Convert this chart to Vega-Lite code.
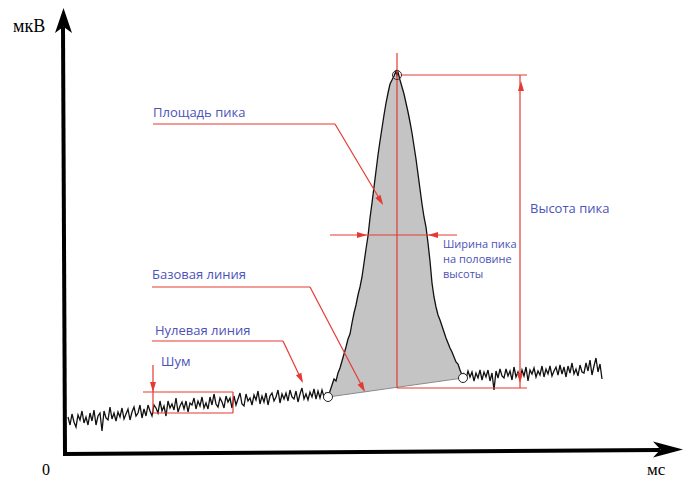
{
  "$schema": "https://vega.github.io/schema/vega-lite/v6.json",
  "width": 687,
  "height": 479,
  "autosize": {"type": "fit", "contains": "padding"},
  "padding": 0,
  "background": "white",
  "config": {"view": {"stroke": null}},
  "datasets": {
    "sig": [
      {"t":68,"v":38},{"t":70,"v":30},{"t":72,"v":41},{"t":74,"v":33},{"t":76,"v":28},{"t":78,"v":40},{"t":80,"v":35},{"t":82,"v":44},{"t":84,"v":32},{"t":86,"v":38},
      {"t":88,"v":30},{"t":90,"v":42},{"t":92,"v":34},{"t":94,"v":45},{"t":96,"v":30},{"t":98,"v":39},{"t":100,"v":42},{"t":102,"v":24},{"t":104,"v":44},{"t":106,"v":37},
      {"t":108,"v":35},{"t":110,"v":48},{"t":112,"v":36},{"t":114,"v":42},{"t":116,"v":34},{"t":118,"v":43},{"t":120,"v":38},{"t":122,"v":47},{"t":124,"v":36},{"t":126,"v":41},
      {"t":128,"v":46},{"t":130,"v":35},{"t":132,"v":43},{"t":134,"v":48},{"t":136,"v":39},{"t":138,"v":42},{"t":140,"v":50},{"t":142,"v":37},{"t":144,"v":46},{"t":146,"v":39},
      {"t":148,"v":50},{"t":150,"v":44},{"t":152,"v":39},{"t":154,"v":50},{"t":156,"v":47},{"t":158,"v":42},{"t":160,"v":54},{"t":162,"v":44},{"t":164,"v":49},{"t":166,"v":39},
      {"t":168,"v":54},{"t":170,"v":47},{"t":172,"v":51},{"t":174,"v":45},{"t":176,"v":57},{"t":178,"v":43},{"t":180,"v":49},{"t":182,"v":53},{"t":184,"v":46},{"t":186,"v":54},
      {"t":188,"v":43},{"t":190,"v":52},{"t":192,"v":50},{"t":194,"v":57},{"t":196,"v":46},{"t":198,"v":54},{"t":200,"v":49},{"t":202,"v":58},{"t":204,"v":47},{"t":206,"v":52},
      {"t":208,"v":46},{"t":210,"v":58},{"t":212,"v":50},{"t":214,"v":61},{"t":216,"v":51},{"t":218,"v":48},{"t":220,"v":57},{"t":222,"v":53},{"t":224,"v":47},{"t":226,"v":59},
      {"t":228,"v":53},{"t":230,"v":57},{"t":232,"v":47},{"t":234,"v":59},{"t":236,"v":50},{"t":238,"v":56},{"t":240,"v":62},{"t":242,"v":51},{"t":244,"v":49},{"t":246,"v":61},
      {"t":248,"v":54},{"t":250,"v":57},{"t":252,"v":50},{"t":254,"v":60},{"t":256,"v":55},{"t":258,"v":64},{"t":260,"v":51},{"t":262,"v":59},{"t":264,"v":53},{"t":266,"v":62},
      {"t":268,"v":50},{"t":270,"v":59},{"t":272,"v":62},{"t":274,"v":54},{"t":276,"v":58},{"t":278,"v":65},{"t":280,"v":52},{"t":282,"v":61},{"t":284,"v":56},{"t":286,"v":62},
      {"t":288,"v":54},{"t":290,"v":65},{"t":292,"v":58},{"t":294,"v":56},{"t":296,"v":64},{"t":298,"v":53},{"t":300,"v":61},{"t":302,"v":67},{"t":304,"v":56},{"t":306,"v":61},
      {"t":308,"v":55},{"t":310,"v":63},{"t":312,"v":58},{"t":314,"v":66},{"t":316,"v":56},{"t":318,"v":64},{"t":320,"v":57},{"t":322,"v":65},{"t":324,"v":58},{"t":326,"v":62},
      {"t":328,"v":58,"b":58},{"t":330,"v":64,"b":58.3},{"t":332,"v":70,"b":58.6},{"t":334,"v":76,"b":58.8},{"t":336,"v":74,"b":59.1},{"t":338,"v":82,"b":59.4},{"t":340,"v":87,"b":59.7},
      {"t":342,"v":94,"b":60},{"t":344,"v":101,"b":60.3},{"t":346,"v":108,"b":60.5},{"t":348,"v":116,"b":60.8},{"t":350,"v":121,"b":61.1},{"t":352,"v":132,"b":61.4},{"t":354,"v":142,"b":61.7},
      {"t":356,"v":150,"b":61.9},{"t":358,"v":160,"b":62.2},{"t":360,"v":168,"b":62.5},{"t":362,"v":178,"b":62.8},{"t":364,"v":192,"b":63.1},{"t":366,"v":206,"b":63.3},{"t":368,"v":219,"b":63.6},
      {"t":370,"v":237,"b":63.9},{"t":372,"v":252,"b":64.2},{"t":374,"v":268,"b":64.5},{"t":376,"v":284,"b":64.8},{"t":378,"v":300,"b":65},{"t":380,"v":314,"b":65.3},{"t":382,"v":327,"b":65.6},
      {"t":384,"v":340,"b":65.9},{"t":386,"v":352,"b":66.2},{"t":388,"v":362,"b":66.4},{"t":390,"v":371,"b":66.7},{"t":392,"v":375,"b":67},{"t":394,"v":379,"b":67.3},{"t":396,"v":384,"b":67.6},
      {"t":397,"v":380,"b":67.7},{"t":398,"v":383,"b":67.8},{"t":400,"v":375,"b":68.1},{"t":402,"v":368,"b":68.4},{"t":404,"v":361,"b":68.7},{"t":406,"v":352,"b":69},{"t":408,"v":343,"b":69.3},
      {"t":410,"v":333,"b":69.5},{"t":412,"v":322,"b":69.8},{"t":414,"v":309,"b":70.1},{"t":416,"v":296,"b":70.4},{"t":418,"v":281,"b":70.7},{"t":420,"v":266,"b":70.9},{"t":422,"v":251,"b":71.2},
      {"t":424,"v":238,"b":71.5},{"t":426,"v":228,"b":71.8},{"t":428,"v":212,"b":72.1},{"t":430,"v":194,"b":72.4},{"t":432,"v":172,"b":72.6},{"t":434,"v":158,"b":72.9},{"t":436,"v":148,"b":73.2},
      {"t":438,"v":140,"b":73.5},{"t":440,"v":135,"b":73.8},{"t":442,"v":129,"b":74},{"t":444,"v":123,"b":74.3},{"t":446,"v":117,"b":74.6},{"t":448,"v":112,"b":74.9},{"t":450,"v":107,"b":75.2},
      {"t":452,"v":103,"b":75.4},{"t":454,"v":98,"b":75.7},{"t":456,"v":93,"b":76},{"t":458,"v":91,"b":76.3},{"t":460,"v":85,"b":76.6},{"t":462,"v":80,"b":76.8},{"t":463,"v":77,"b":77},
      {"t":464,"v":81},{"t":466,"v":76},{"t":468,"v":84},{"t":470,"v":78},{"t":472,"v":83},{"t":474,"v":74},{"t":476,"v":82},{"t":478,"v":77},{"t":480,"v":85},{"t":482,"v":75},
      {"t":484,"v":83},{"t":486,"v":78},{"t":488,"v":85},{"t":490,"v":74},{"t":492,"v":82},{"t":494,"v":65},{"t":496,"v":84},{"t":498,"v":77},{"t":500,"v":86},{"t":502,"v":79},
      {"t":504,"v":77},{"t":506,"v":86},{"t":508,"v":79},{"t":510,"v":84},{"t":512,"v":75},{"t":514,"v":88},{"t":516,"v":78},{"t":518,"v":83},{"t":520,"v":76},{"t":522,"v":85},
      {"t":524,"v":79},{"t":526,"v":88},{"t":528,"v":74},{"t":530,"v":85},{"t":532,"v":81},{"t":534,"v":87},{"t":536,"v":78},{"t":538,"v":84},{"t":540,"v":80},{"t":542,"v":89},
      {"t":544,"v":78},{"t":546,"v":86},{"t":548,"v":81},{"t":550,"v":89},{"t":552,"v":79},{"t":554,"v":84},{"t":556,"v":88},{"t":558,"v":80},{"t":560,"v":90},{"t":562,"v":81},
      {"t":564,"v":88},{"t":566,"v":78},{"t":568,"v":89},{"t":570,"v":82},{"t":572,"v":92},{"t":574,"v":81},{"t":576,"v":86},{"t":578,"v":79},{"t":580,"v":90},{"t":582,"v":83},
      {"t":584,"v":82},{"t":586,"v":92},{"t":588,"v":84},{"t":590,"v":95},{"t":592,"v":80},{"t":594,"v":89},{"t":596,"v":97},{"t":598,"v":83},{"t":600,"v":91},{"t":602,"v":76}
    ],
    "segs": [
      {"x":65,"v":0,"x2":63,"v2":428,"c":"#000000","w":4},
      {"x":63,"v":1,"x2":660,"v2":5,"c":"#000000","w":4},
      {"x":328,"v":58,"x2":463,"v2":77,"c":"#8a8a8a","w":1},
      {"x":153,"v":331,"x2":335,"v2":331,"c":"#e53a33","w":1.2},
      {"x":335,"v":331,"x2":382,"v2":252,"c":"#e53a33","w":1.2},
      {"x":152,"v":168,"x2":310,"v2":168,"c":"#e53a33","w":1.2},
      {"x":310,"v":168,"x2":364,"v2":65,"c":"#e53a33","w":1.2},
      {"x":152,"v":114,"x2":283,"v2":114,"c":"#e53a33","w":1.2},
      {"x":283,"v":114,"x2":302,"v2":74,"c":"#e53a33","w":1.2},
      {"x":153,"v":90,"x2":153,"v2":42,"c":"#e53a33","w":1.2},
      {"x":143,"v":63,"x2":233,"v2":63,"c":"#e53a33","w":1.2},
      {"x":153,"v":42,"x2":233,"v2":42,"c":"#e53a33","w":1.2},
      {"x":233,"v":63,"x2":233,"v2":42,"c":"#e53a33","w":1.2},
      {"x":330,"v":220,"x2":457,"v2":220,"c":"#e53a33","w":1.2},
      {"x":397,"v":402,"x2":397,"v2":67,"c":"#e53a33","w":1.2},
      {"x":397,"v":67,"x2":527,"v2":67,"c":"#e53a33","w":1.2},
      {"x":401,"v":380,"x2":527,"v2":380,"c":"#e53a33","w":1.2},
      {"x":520,"v":380,"x2":520,"v2":67,"c":"#e53a33","w":1.2}
    ],
    "heads": [
      {"x":380.5,"v":254.3,"s":"M0,1L-0.6,-1L0.6,-1Z","a":-31,"z":100,"c":"#e53a33"},
      {"x":362.6,"v":67.4,"s":"M0,1L-0.6,-1L0.6,-1Z","a":-28.5,"z":100,"c":"#e53a33"},
      {"x":300.8,"v":76.5,"s":"M0,1L-0.6,-1L0.6,-1Z","a":-25.5,"z":100,"c":"#e53a33"},
      {"x":153,"v":68,"s":"M0,1L-0.6,-1L0.6,-1Z","a":0,"z":100,"c":"#e53a33"},
      {"x":362,"v":220,"s":"M0,1L-0.6,-1L0.6,-1Z","a":-90,"z":100,"c":"#e53a33"},
      {"x":433,"v":220,"s":"M0,1L-0.6,-1L0.6,-1Z","a":90,"z":100,"c":"#e53a33"},
      {"x":521,"v":369,"s":"M0,1L-0.6,-1L0.6,-1Z","a":180,"z":100,"c":"#e53a33"},
      {"x":520,"v":77,"s":"M0,1L-0.6,-1L0.6,-1Z","a":0,"z":100,"c":"#e53a33"},
      {"x":63.5,"v":434.5,"s":"M0,-1L0.68,1L0,0.5L-0.68,1Z","a":0,"z":625,"c":"#000000"},
      {"x":668,"v":5.5,"s":"M1,0L-1,-0.53L-0.5,0L-1,0.53Z","a":0,"z":900,"c":"#000000"}
    ],
    "rings": [
      {"x":397,"v":380,"f":"transparent","k":"#4a2222"},
      {"x":328,"v":58,"f":"#ffffff","k":"#222222"},
      {"x":463,"v":77,"f":"#ffffff","k":"#222222"}
    ],
    "labels": [
      {"x":153,"v":338,"txt":"Площадь пика","fs":13},
      {"x":152,"v":176,"txt":"Базовая линия","fs":13},
      {"x":155,"v":120,"txt":"Нулевая линия","fs":13},
      {"x":161,"v":89,"txt":"Шум","fs":13},
      {"x":530,"v":242,"txt":"Высота пика","fs":13},
      {"x":443,"v":207,"txt":"Ширина пика","fs":11},
      {"x":443,"v":192,"txt":"на половине","fs":11},
      {"x":443,"v":177,"txt":"высоты","fs":11}
    ],
    "serif": [
      {"x":13,"v":423,"txt":"мкВ","fs":18},
      {"x":42,"v":-20,"txt":"0","fs":16},
      {"x":647,"v":-20,"txt":"мс","fs":17}
    ]
  },
  "layer": [
    {
      "data": {"name": "sig"},
      "transform": [{"filter": "datum.b != null"}],
      "mark": {"type": "area", "color": "#c4c4c4", "opacity": 1},
      "encoding": {
        "x": {"field": "t", "type": "quantitative", "scale": {"domain": [0, 687], "nice": false, "zero": false}, "axis": null},
        "y": {"field": "v", "type": "quantitative", "scale": {"domain": [-24, 455], "nice": false, "zero": false}, "axis": null},
        "y2": {"field": "b"}
      }
    },
    {
      "data": {"name": "segs"},
      "transform": [{"filter": "datum.c == '#8a8a8a'"}],
      "mark": {"type": "rule"},
      "encoding": {
        "x": {"field": "x", "type": "quantitative", "scale": {"domain": [0, 687], "nice": false, "zero": false}, "axis": null},
        "y": {"field": "v", "type": "quantitative", "scale": {"domain": [-24, 455], "nice": false, "zero": false}, "axis": null},
        "x2": {"field": "x2"},
        "y2": {"field": "v2"},
        "color": {"field": "c", "type": "nominal", "scale": null},
        "strokeWidth": {"field": "w", "type": "quantitative", "scale": null}
      }
    },
    {
      "data": {"name": "sig"},
      "mark": {"type": "line", "color": "#111111", "strokeWidth": 1.3},
      "encoding": {
        "x": {"field": "t", "type": "quantitative", "scale": {"domain": [0, 687], "nice": false, "zero": false}, "axis": null},
        "y": {"field": "v", "type": "quantitative", "scale": {"domain": [-24, 455], "nice": false, "zero": false}, "axis": null},
        "order": {"field": "t"}
      }
    },
    {
      "data": {"name": "segs"},
      "transform": [{"filter": "datum.c != '#8a8a8a'"}],
      "mark": {"type": "rule"},
      "encoding": {
        "x": {"field": "x", "type": "quantitative", "scale": {"domain": [0, 687], "nice": false, "zero": false}, "axis": null},
        "y": {"field": "v", "type": "quantitative", "scale": {"domain": [-24, 455], "nice": false, "zero": false}, "axis": null},
        "x2": {"field": "x2"},
        "y2": {"field": "v2"},
        "color": {"field": "c", "type": "nominal", "scale": null},
        "strokeWidth": {"field": "w", "type": "quantitative", "scale": null}
      }
    },
    {
      "data": {"name": "heads"},
      "mark": {"type": "point", "filled": true, "opacity": 1, "strokeWidth": 0},
      "encoding": {
        "x": {"field": "x", "type": "quantitative", "scale": {"domain": [0, 687], "nice": false, "zero": false}, "axis": null},
        "y": {"field": "v", "type": "quantitative", "scale": {"domain": [-24, 455], "nice": false, "zero": false}, "axis": null},
        "shape": {"field": "s", "type": "nominal", "scale": null},
        "angle": {"field": "a", "type": "quantitative", "scale": null},
        "size": {"field": "z", "type": "quantitative", "scale": null},
        "color": {"field": "c", "type": "nominal", "scale": null}
      }
    },
    {
      "data": {"name": "rings"},
      "mark": {"type": "point", "shape": "circle", "size": 81, "strokeWidth": 1, "opacity": 1},
      "encoding": {
        "x": {"field": "x", "type": "quantitative", "scale": {"domain": [0, 687], "nice": false, "zero": false}, "axis": null},
        "y": {"field": "v", "type": "quantitative", "scale": {"domain": [-24, 455], "nice": false, "zero": false}, "axis": null},
        "fill": {"field": "f", "type": "nominal", "scale": null},
        "stroke": {"field": "k", "type": "nominal", "scale": null}
      }
    },
    {
      "data": {"name": "labels"},
      "mark": {"type": "text", "align": "left", "baseline": "alphabetic", "font": "Open Sans", "color": "#4c52b8"},
      "encoding": {
        "x": {"field": "x", "type": "quantitative", "scale": {"domain": [0, 687], "nice": false, "zero": false}, "axis": null},
        "y": {"field": "v", "type": "quantitative", "scale": {"domain": [-24, 455], "nice": false, "zero": false}, "axis": null},
        "text": {"field": "txt"},
        "size": {"field": "fs", "type": "quantitative", "scale": null}
      }
    },
    {
      "data": {"name": "serif"},
      "mark": {"type": "text", "align": "left", "baseline": "alphabetic", "font": "Liberation Serif", "color": "#000000"},
      "encoding": {
        "x": {"field": "x", "type": "quantitative", "scale": {"domain": [0, 687], "nice": false, "zero": false}, "axis": null},
        "y": {"field": "v", "type": "quantitative", "scale": {"domain": [-24, 455], "nice": false, "zero": false}, "axis": null},
        "text": {"field": "txt"},
        "size": {"field": "fs", "type": "quantitative", "scale": null}
      }
    }
  ]
}
